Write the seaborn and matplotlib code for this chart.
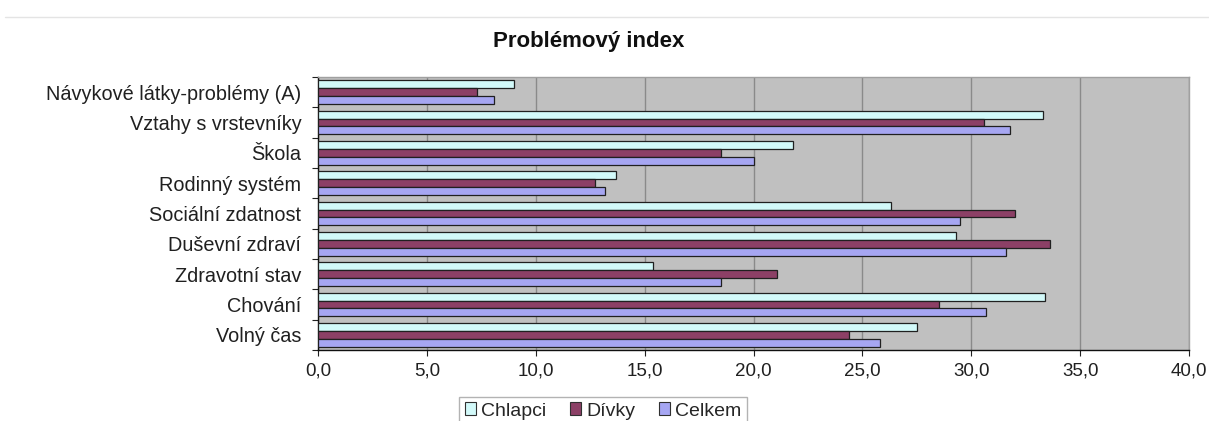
import pandas as pd
import numpy as np
import matplotlib
matplotlib.use("Agg")
from matplotlib import pyplot as plt
from matplotlib.ticker import FuncFormatter, FixedLocator
import seaborn as sns

categories = ["Návykové látky-problémy (A)", "Vztahy s vrstevníky", "Škola",
              "Rodinný systém", "Sociální zdatnost", "Duševní zdraví",
              "Zdravotní stav", "Chování", "Volný čas"]
chlapci = [9.0, 33.3, 21.8, 13.7, 26.3, 29.3, 15.4, 33.4, 27.5]
divky = [7.3, 30.6, 18.5, 12.7, 32.0, 33.6, 21.1, 28.5, 24.4]
celkem = [8.1, 31.8, 20.0, 13.2, 29.5, 31.6, 18.5, 30.7, 25.8]
series = ["Chlapci", "Dívky", "Celkem"]
colors = ["#CCFFFF", "#993366", "#9999FF"]

df = pd.DataFrame({
    "kategorie": categories * 3,
    "hodnota": chlapci + divky + celkem,
    "skupina": ["Chlapci"] * 9 + ["Dívky"] * 9 + ["Celkem"] * 9,
})

sns.set_style("white")
plt.rcParams["font.family"] = ["Liberation Sans", "DejaVu Sans"]

fig = plt.figure(figsize=(12.09, 4.21), dpi=100)
ax = fig.add_axes([318 / 1209, 1 - 350 / 421, 871 / 1209, 273 / 421])

sns.barplot(data=df, y="kategorie", x="hodnota", hue="skupina", hue_order=series,
            palette=colors, orient="h", width=0.78, edgecolor="#202020",
            linewidth=0.9, ax=ax, zorder=3)

ax.set_facecolor("#C0C0C0")
ax.set_xlim(0, 40)
ax.set_ylim(8.5, -0.5)
ax.set_xticks(np.arange(0, 41, 5))
ax.xaxis.set_major_formatter(FuncFormatter(lambda v, p: f"{v:.1f}".replace(".", ",")))
ax.grid(axis="x", color="#8A8A8A", linewidth=1.0, zorder=0)
ax.set_axisbelow(True)
ax.set_xlabel("")
ax.set_ylabel("")
ax.tick_params(axis="x", labelsize=13.5, colors="#202020", length=4, direction="out",
               bottom=True, width=0.8, pad=5)
ax.tick_params(axis="y", labelsize=14.3, colors="#202020", length=0, pad=12)
ax.yaxis.set_minor_locator(FixedLocator(np.arange(-0.5, 9, 1)))
ax.tick_params(axis="y", which="minor", left=True, length=4, width=0.8, color="#202020")

for side in ["left", "bottom"]:
    ax.spines[side].set_color("#101010")
    ax.spines[side].set_linewidth(1.0)
for side in ["top", "right"]:
    ax.spines[side].set_color("#A0A0A0")
    ax.spines[side].set_linewidth(1.0)

fig.text(589 / 1209, 1 - 42 / 421, "Problémový index", fontsize=16,
         fontweight="bold", ha="center", va="center", color="#101010")

leg = ax.legend(loc="center", bbox_to_anchor=(603 / 1209, 1 - 411 / 421),
                bbox_transform=fig.transFigure, ncol=3, frameon=True,
                fancybox=False, fontsize=14, handlelength=0.6, handleheight=0.6,
                handletextpad=0.25, columnspacing=1.2, borderpad=0.3)
leg.get_frame().set_edgecolor("#A0A0A0")
leg.get_frame().set_linewidth(1.0)
for h in leg.legend_handles:
    h.set_edgecolor("#303030")
    h.set_linewidth(0.8)

fig.add_artist(plt.Line2D([5 / 1209, 1], [1 - 17 / 421, 1 - 17 / 421],
                          transform=fig.transFigure, color="#E4E4E4", linewidth=1))

fig.savefig("out.png", dpi=100)
